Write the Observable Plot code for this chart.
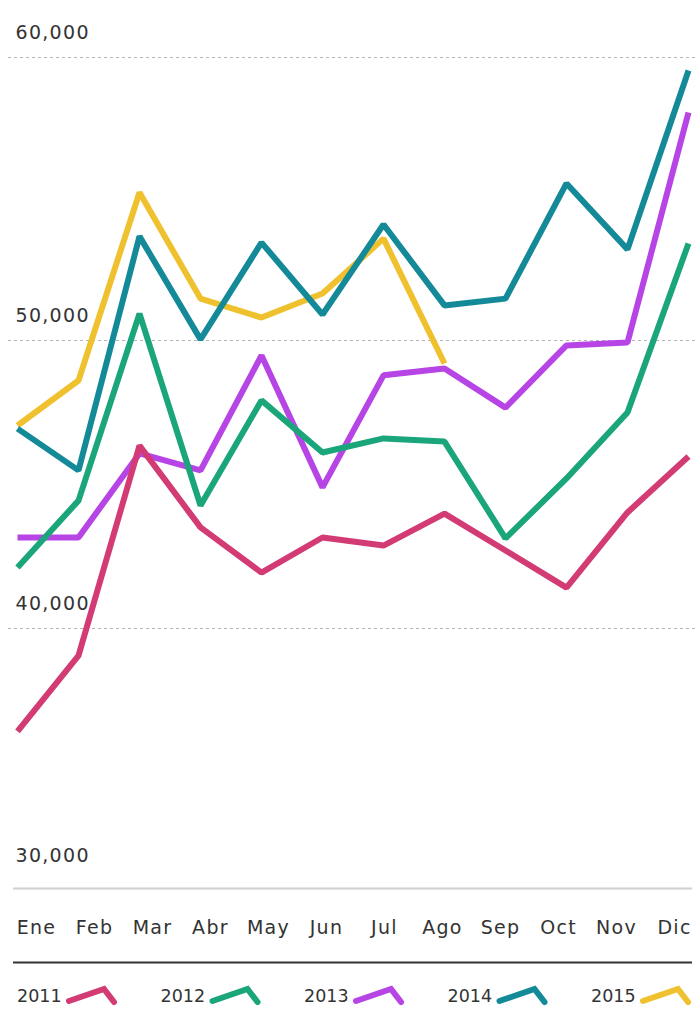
<!DOCTYPE html>
<html><head><meta charset="utf-8">
<script src="https://cdn.jsdelivr.net/npm/d3@7"></script>
<script src="https://cdn.jsdelivr.net/npm/@observablehq/plot@0.6"></script>
<style>
body{margin:0;background:#fff;}
#chart{width:695px;font-family:"DejaVu Sans",sans-serif;}
#chart svg{display:block;}
</style></head><body><div id="chart"></div>
<script>
const months = ["Ene","Feb","Mar","Abr","May","Jun","Jul","Ago","Sep","Oct","Nov","Dic"];
const years = ["2011","2012","2013","2014","2015"];
const colors = ["#d23b74","#1ba57b","#b744e4","#148a99","#f0c12f"];
const v2011 = [36040,38960,46350,43510,41940,43160,42880,43990,42710,41420,44030,45970];
const v2012 = [42120,44440,50950,44270,47920,46110,46600,46490,43130,45210,47500,53430];
const v2013 = [43160,43160,46080,45490,49480,44900,48790,49030,47670,49830,49930,58060];
const v2014 = [46940,45490,53680,50040,53460,50920,54100,51240,51480,55550,53220,59540];
const v2015 = [47050,48610,55230,51480,50810,51660,53600,49200];
const series = [v2011, v2012, v2013, v2014, v2015];
const yTicks = [30000,40000,50000,60000];

const rows = [];
years.forEach((yr, i) => series[i].forEach((v, j) => rows.push({year: yr, month: months[j], value: v})));
const fmt = d3.format(",");
const baseStyle = {fontFamily:'"DejaVu Sans", sans-serif', fontSize:"19px", letterSpacing:"1.3px", color:"#333", background:"#fff"};

const lineMarks = years.slice().reverse().map(yr => {
  const i = years.indexOf(yr);
  return Plot.line(rows.filter(r => r.year === yr), {
    x: "month", y: "value", stroke: colors[i], strokeWidth: 6,
    strokeLinejoin: "miter", strokeLinecap: "butt"
  });
});

const main = Plot.plot({
  width: 695, height: 892, marginTop: 0, marginBottom: 4, marginLeft: 8, marginRight: 0,
  style: baseStyle,
  x: {type: "point", domain: months, range: [14, 690], padding: 0, axis: null},
  y: {type: "linear", domain: yTicks, range: [888, 628, 340, 57], axis: null},
  marks: [
    Plot.ruleY(yTicks.slice(1), {stroke: "#b5b5b5", strokeDasharray: "3,3", strokeWidth: 1.2}),
    Plot.ruleY(yTicks.slice(0, 1), {stroke: "#d0d0d0", strokeWidth: 2, insetLeft: 5, insetRight: 3}),
    Plot.text(yTicks.slice(1), {y: d => d, text: d => fmt(d), frameAnchor: "left", textAnchor: "start", dx: 7, dy: -25, fill: "#333"}),
    Plot.text(yTicks.slice(0, 1), {y: d => d, text: d => fmt(d), frameAnchor: "left", textAnchor: "start", dx: 7, dy: -33, fill: "#333"}),
    ...lineMarks
  ]
});

const xAxisPlot = Plot.plot({
  width: 695, height: 80, marginTop: 0, marginBottom: 0, marginLeft: 13, marginRight: 3,
  style: baseStyle,
  x: {type: "point", domain: months, range: [35, 675], padding: 0, axis: null},
  y: {domain: [0, 80], range: [0, 80], axis: null},
  marks: [
    Plot.text(months, {x: d => d, y: () => 35, text: d => d, fill: "#333"}),
    Plot.ruleY([70], {y: d => d, stroke: "#333", strokeWidth: 2})
  ]
});

const legend = d3.create("svg").attr("width", 695).attr("height", 40)
  .style("display", "block").style("font-family", '"DejaVu Sans", sans-serif')
  .style("font-size", "17.5px").style("letter-spacing", "0px");
years.forEach((yr, i) => {
  const x0 = 17 + i * 143.5;
  const g = legend.append("g").attr("transform", `translate(${x0},0)`);
  g.append("text").attr("x", 0).attr("y", 24).attr("dy", "0.35em").attr("fill", "#333").text(yr);
  g.append("polyline").attr("points", "52,29 87,17 97,30")
    .attr("fill", "none").attr("stroke", colors[i]).attr("stroke-width", 6)
    .attr("stroke-linecap", "round").attr("stroke-linejoin", "miter");
});

const root = document.getElementById("chart");
root.append(main, xAxisPlot, legend.node());
</script></body></html>
